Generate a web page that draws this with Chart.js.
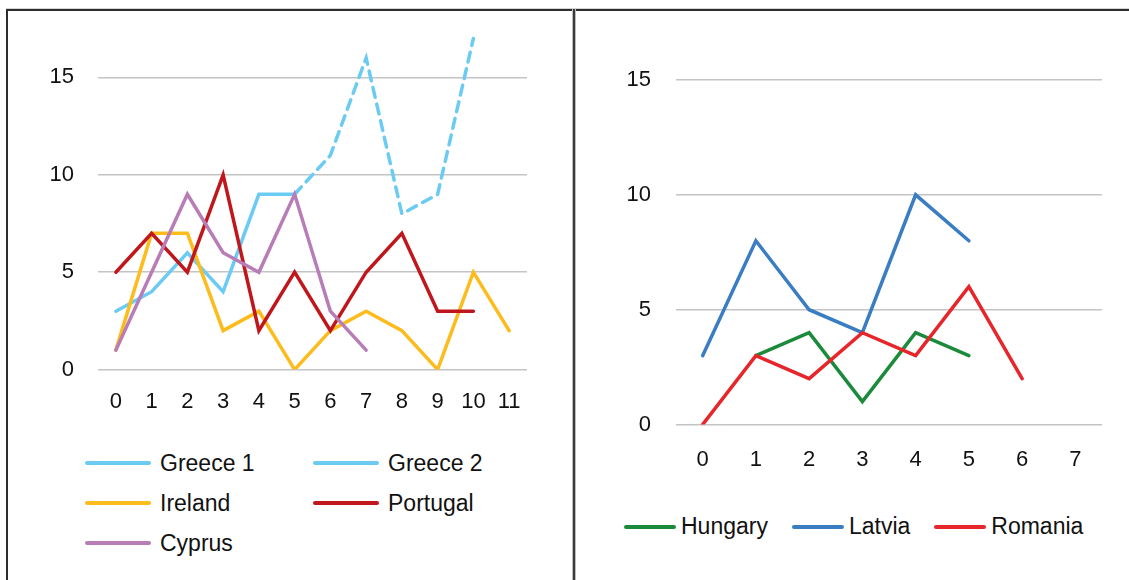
<!DOCTYPE html>
<html>
<head>
	<meta charset="utf-8">
	<title>Country lines</title>
	<script src="https://cdn.jsdelivr.net/npm/chart.js@4"></script>
	<style>
		body { margin: 0; background: #fff; width: 1129px; height: 580px; overflow: hidden; position: relative; font-family: "Liberation Sans", Arial, sans-serif; color: #111; }
		canvas { position: absolute; }
		.frame-top { position: absolute; left: 6px; top: 8px; width: 1123px; height: 2px; background: #2e2e2e; border-top: 1px solid #d4d4d4; }
		.frame-left { position: absolute; left: 6px; top: 9px; width: 2px; height: 571px; background: #2e2e2e; }
		.divider { position: absolute; left: 572px; top: 9px; width: 2px; height: 571px; background: #3a3a3a; border-left: 1px solid #bdbdbd; border-right: 1px solid #bdbdbd; }
		.legend { position: absolute; font-size: 23px; }
		.legend .item { display: flex; align-items: center; white-space: nowrap; }
		.legend .sw { height: 4px; border-radius: 2px; }
		#legLeft { left: 85px; top: 443px; display: grid; grid-template-columns: 228px 228px; grid-auto-rows: 40px; }
		#legLeft .sw { width: 66px; margin-right: 9px; }
		#legRight { left: 624px; top: 513px; display: flex; gap: 24px; }
		#legRight .sw { width: 52px; margin-right: 5px; }
	</style>
</head>
<body>
	<div class="frame-top"></div>
	<div class="frame-left"></div>
	<div class="divider"></div>

	<canvas id="leftChart" width="560" height="415" style="left:8px; top:0px;"></canvas>
	<canvas id="rightChart" width="544" height="476" style="left:585px; top:-3px;"></canvas>

	<div class="legend" id="legLeft"></div>
	<div class="legend" id="legRight"></div>

	<script>
		// left panel
		const leftLabels = ['0', '1', '2', '3', '4', '5', '6', '7', '8', '9', '10', '11'];
		const greece1 = [3, 4, 6, 4, 9, 9];
		const greece2 = [null, null, null, null, null, 9, 11, 16, 8, 9, 17];
		const ireland = [1, 7, 7, 2, 3, 0, 2, 3, 2, 0, 5, 2];
		const portugal = [5, 7, 5, 10, 2, 5, 2, 5, 7, 3, 3];
		const cyprus = [1, 5, 9, 6, 5, 9, 3, 1];

		// right panel
		const rightLabels = ['0', '1', '2', '3', '4', '5', '6', '7'];
		const hungary = [null, 3, 4, 1, 4, 3];
		const latvia = [3, 8, 5, 4, 10, 8];
		const romania = [0, 3, 2, 4, 3, 6, 2];

		const yTicks = [0, 5, 10, 15];

		Chart.defaults.font.family = '"Liberation Sans", Arial, sans-serif';
		Chart.defaults.color = '#111';

		function line(label, data, color, dash) {
			return {
				label: label,
				data: data,
				borderColor: color,
				backgroundColor: color,
				borderWidth: 3.5,
				borderDash: dash || [],
				borderCapStyle: 'round',
				pointRadius: 0,
				tension: 0,
				spanGaps: false
			};
		}

		// spacing between labels and plot is done with invisible tick marks,
		// ticks.padding would also push the plot area down
		function makeChart(id, labels, sets, yWidth, yGap, xGap, pad) {
			sets.forEach(function (s, i) { s.order = sets.length - i; });
			return new Chart(document.getElementById(id), {
				type: 'line',
				data: { labels: labels, datasets: sets },
				options: {
					responsive: false,
					animation: false,
					layout: { padding: pad },
					plugins: { legend: { display: false }, tooltip: { enabled: false } },
					scales: {
						x: {
							offset: true,
							grid: { display: false, drawTicks: true, tickLength: xGap },
							border: { display: false },
							ticks: { font: { size: 22 }, padding: 0, maxRotation: 0, autoSkip: false }
						},
						y: {
							min: 0,
							max: 18,
							afterFit: function (scale) { scale.width = yWidth; },
							afterBuildTicks: function (scale) {
								scale.ticks = yTicks.map(function (v) { return { value: v }; });
							},
							grid: { color: '#c4c4c4', lineWidth: 1.5, drawTicks: true, tickLength: yGap, tickColor: 'rgba(0,0,0,0)' },
							border: { display: false },
							ticks: { font: { size: 22 }, padding: 0 }
						}
					}
				}
			});
		}

		const leftSets = [
			line('Greece 1', greece1, '#6ccbf3'),
			line('Greece 2', greece2, '#6ccbf3', [10, 7]),
			line('Ireland', ireland, '#fdbb1c'),
			line('Portugal', portugal, '#c0171d'),
			line('Cyprus', cyprus, '#b87db7')
		];
		const rightSets = [
			line('Hungary', hungary, '#1c8a3b'),
			line('Latvia', latvia, '#3a7dc2'),
			line('Romania', romania, '#e6262a')
		];

		makeChart('leftChart', leftLabels, leftSets, 90, 24, 19, { top: 19, right: 41, bottom: 0, left: 0 });
		makeChart('rightChart', rightLabels, rightSets, 91, 25, 22, { top: 14, right: 27, bottom: 0, left: 0 });

		function legend(el, sets) {
			sets.forEach(function (s) {
				var item = document.createElement('div');
				item.className = 'item';
				var sw = document.createElement('span');
				sw.className = 'sw';
				sw.style.background = s.borderColor;
				var txt = document.createElement('span');
				txt.textContent = s.label;
				item.appendChild(sw);
				item.appendChild(txt);
				el.appendChild(item);
			});
		}
		legend(document.getElementById('legLeft'), leftSets);
		legend(document.getElementById('legRight'), rightSets);
	</script>
</body>
</html>
